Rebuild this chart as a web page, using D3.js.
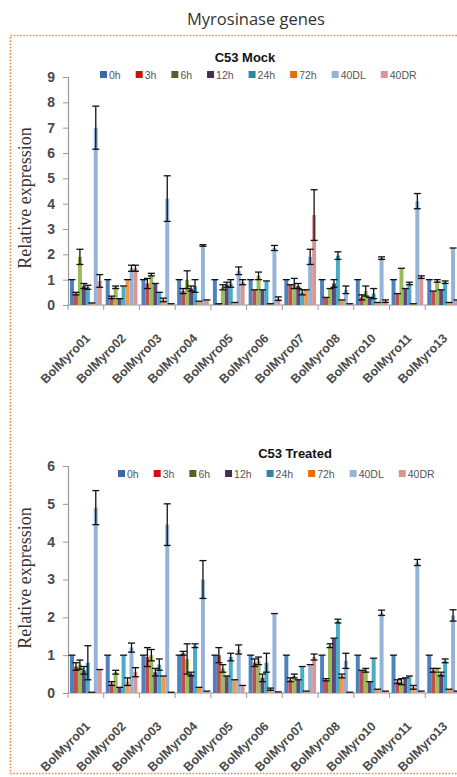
<!DOCTYPE html>
<html lang="en">
<head>
<meta charset="UTF-8">
<title>Myrosinase genes</title>
<style>
    body { margin: 0; padding: 0; background: #fff; }
    svg { display: block; }
    .tick-label { font-family: "Liberation Sans", Arial, sans-serif; font-weight: bold; fill: #4a4a4a; }
</style>
</head>
<body>
<svg id="chart" width="457" height="777"></svg>

<script src="https://d3js.org/d3.v7.min.js"></script>
<script>
// genes on the x axis
var genes = ["BolMyro01", "BolMyro02", "BolMyro03", "BolMyro04", "BolMyro05", "BolMyro06",
             "BolMyro07", "BolMyro08", "BolMyro10", "BolMyro11", "BolMyro13"];
// time points / tissues (legend)
var series = ["0h", "3h", "6h", "12h", "24h", "72h", "40DL", "40DR"];

// C53 Mock: one row per gene, one value per series
var mockMeans = [
    [1.0, 0.45, 1.9, 0.75, 0.7, 0.08, 7.0, 0.95],
    [1.0, 0.3, 0.7, 0.25, 0.75, 1.0, 1.45, 1.45],
    [1.0, 0.85, 1.2, 0.85, 0.5, 0.2, 4.2, 0.05],
    [1.0, 0.55, 1.0, 0.65, 0.75, 0.15, 2.35, 0.2],
    [1.0, 0.05, 0.7, 0.8, 0.85, 0.1, 1.35, 0.9],
    [1.0, 0.6, 1.15, 0.6, 0.95, 0.05, 2.25, 0.25],
    [1.0, 0.8, 0.85, 0.75, 0.5, 0.6, 1.9, 3.55],
    [1.0, 0.3, 0.65, 0.85, 1.95, 0.2, 0.6, 0.05],
    [1.0, 0.3, 0.55, 0.3, 0.45, 0.1, 1.85, 0.15],
    [1.0, 0.45, 1.45, 0.65, 0.85, 0.05, 4.1, 1.1],
    [1.0, 0.55, 0.95, 0.6, 0.9, 0.1, 2.25, 0.2]
];
var mockErrors = [
    [0, 0.05, 0.3, 0.1, 0.08, 0, 0.85, 0.25],
    [0, 0.05, 0.05, 0, 0, 0, 0.12, 0.12],
    [0, 0.2, 0.05, 0, 0, 0.07, 0.9, 0],
    [0, 0.1, 0.35, 0.1, 0.25, 0, 0.03, 0],
    [0, 0, 0.1, 0.1, 0.15, 0, 0.15, 0.1],
    [0, 0, 0.15, 0, 0, 0, 0.1, 0.07],
    [0, 0, 0.2, 0.1, 0.1, 0, 0.3, 1.0],
    [0, 0, 0, 0.15, 0.15, 0, 0.15, 0],
    [0, 0.1, 0.2, 0, 0.2, 0, 0.05, 0.05],
    [0, 0, 0, 0, 0.05, 0, 0.3, 0.05],
    [0, 0, 0.05, 0, 0.05, 0, 0, 0]
];

// C53 Treated
var treatedMeans = [
    [1.0, 0.7, 0.75, 0.6, 0.8, 0.02, 4.9, 0.62],
    [1.0, 0.25, 0.55, 0.15, 1.0, 0.3, 1.2, 0.55],
    [1.0, 0.95, 1.0, 0.55, 0.75, 0.45, 4.45, 0.02],
    [1.0, 1.05, 0.9, 0.5, 1.25, 0.15, 3.0, 0.05],
    [1.0, 1.0, 0.65, 0.45, 0.95, 0.35, 1.15, 0.2],
    [1.0, 0.8, 0.85, 0.4, 0.8, 0.1, 2.1, 0.03],
    [1.0, 0.35, 0.45, 0.35, 0.7, 0.05, 0.75, 0.95],
    [1.0, 0.35, 1.25, 1.45, 1.9, 0.45, 0.85, 0.02],
    [1.0, 0.6, 0.6, 0.3, 0.92, 0.1, 2.12, 0.05],
    [1.0, 0.3, 0.3, 0.4, 0.45, 0.15, 3.45, 0.05],
    [1.0, 0.6, 0.65, 0.5, 0.85, 0.1, 2.05, 0.05]
];
var treatedErrors = [
    [0, 0.1, 0.12, 0.1, 0.45, 0, 0.45, 0],
    [0, 0.05, 0.05, 0, 0, 0.1, 0.12, 0.12],
    [0, 0.25, 0.15, 0.1, 0.15, 0, 0.55, 0],
    [0, 0.05, 0.4, 0.05, 0.05, 0, 0.5, 0],
    [0, 0.2, 0.1, 0, 0.1, 0, 0.12, 0],
    [0, 0.1, 0.1, 0.1, 0.25, 0.03, 0, 0],
    [0, 0.05, 0.05, 0, 0, 0, 0, 0.08],
    [0, 0.03, 0.05, 0, 0.05, 0.05, 0.2, 0],
    [0, 0, 0.05, 0, 0, 0, 0.07, 0],
    [0, 0.05, 0.08, 0, 0, 0.05, 0.08, 0],
    [0, 0.05, 0, 0.05, 0.05, 0, 0.15, 0]
];

var mockTicks = [0, 1, 2, 3, 4, 5, 6, 7, 8, 9];
var treatedTicks = [0, 1, 2, 3, 4, 5, 6];

var colors = ["#4F81BD", "#C0504D", "#9BBB59", "#5F497A", "#4BACC6", "#F79646", "#95B3D7", "#D99694"];
var legendColors = ["#3A68A8", "#D01010", "#4F6228", "#3F3151", "#31859C", "#E46C0A", "#95B3D7", "#D99694"];

var svg = d3.select("#chart");

// dotted orange frame
svg.append("rect")
    .attr("x", 10.5).attr("y", 35.5)
    .attr("width", 470).attr("height", 738)
    .attr("fill", "none")
    .attr("stroke", "#E98A3C")
    .attr("stroke-width", 1.6)
    .attr("stroke-dasharray", "1.6,1.6");

svg.append("text")
    .attr("x", 256).attr("y", 25)
    .attr("text-anchor", "middle")
    .style("font-family", "'Open Sans', 'Liberation Sans', sans-serif")
    .style("font-size", "16.5px")
    .attr("fill", "#333")
    .text("Myrosinase genes");

function drawPanel(p) {
    var g = svg.append("g");
    var x = d3.scaleBand().domain(genes).range([68, 461]);
    var xs = d3.scaleBand().domain(series).range([2, x.bandwidth() - 2]);
    var y = d3.scaleLinear().domain([0, p.max]).range([p.y0, p.yTop]);

    // y axis
    var yAxis = g.append("g")
        .attr("transform", "translate(68,0)")
        .call(d3.axisLeft(y).tickValues(p.ticks).tickFormat(d3.format("d")).tickSize(5).tickPadding(8));
    yAxis.select(".domain").attr("stroke", "#999").attr("stroke-width", 1.2);
    yAxis.selectAll(".tick line").attr("stroke", "#999");
    yAxis.selectAll(".tick text").attr("class", "tick-label").style("font-size", "14px");

    // x axis, ticks between groups
    var edges = genes.map(function (d) { return x(d); }).concat([x.range()[1]]);
    var xAxis = g.append("g").attr("transform", "translate(0," + p.y0 + ")");
    xAxis.append("line").attr("x1", 68).attr("x2", 461)
        .attr("stroke", "#999").attr("stroke-width", 1.2);
    xAxis.selectAll("line.tk").data(edges).enter().append("line")
        .attr("class", "tk")
        .attr("x1", function (d) { return d; }).attr("x2", function (d) { return d; })
        .attr("y1", 0).attr("y2", 5).attr("stroke", "#999");
    xAxis.selectAll("text").data(genes).enter().append("text")
        .attr("class", "tick-label")
        .style("font-size", "12.5px")
        .attr("text-anchor", "end")
        .attr("transform", function (d) {
            return "translate(" + (x(d) + x.bandwidth() / 2 + 5) + ",34) rotate(-45)";
        })
        .text(function (d) { return d; });

    // bars
    var rows = [];
    genes.forEach(function (gene, i) {
        series.forEach(function (s, j) {
            rows.push({ gene: gene, s: s, j: j, v: p.means[i][j], e: p.errors[i][j] });
        });
    });
    g.selectAll("rect.bar").data(rows).enter().append("rect")
        .attr("class", "bar")
        .attr("x", function (d) { return x(d.gene) + xs(d.s); })
        .attr("y", function (d) { return y(d.v); })
        .attr("width", xs.bandwidth())
        .attr("height", function (d) { return y(0) - y(d.v); })
        .attr("fill", function (d) { return colors[d.j]; });

    // error bars
    var eb = g.selectAll("g.err").data(rows).enter().append("g").attr("class", "err")
        .attr("stroke", "#111").attr("stroke-width", 1.3);
    eb.append("line")
        .attr("x1", function (d) { return x(d.gene) + xs(d.s) + xs.bandwidth() / 2; })
        .attr("x2", function (d) { return x(d.gene) + xs(d.s) + xs.bandwidth() / 2; })
        .attr("y1", function (d) { return y(d.v + d.e); })
        .attr("y2", function (d) { return y(Math.max(0, d.v - d.e)); });
    eb.append("line")
        .attr("x1", function (d) { return x(d.gene) + xs(d.s) + xs.bandwidth() / 2 - 3.5; })
        .attr("x2", function (d) { return x(d.gene) + xs(d.s) + xs.bandwidth() / 2 + 3.5; })
        .attr("y1", function (d) { return y(d.v + d.e); })
        .attr("y2", function (d) { return y(d.v + d.e); });
    eb.filter(function (d) { return d.e > 0; }).append("line")
        .attr("x1", function (d) { return x(d.gene) + xs(d.s) + xs.bandwidth() / 2 - 3.5; })
        .attr("x2", function (d) { return x(d.gene) + xs(d.s) + xs.bandwidth() / 2 + 3.5; })
        .attr("y1", function (d) { return y(Math.max(0, d.v - d.e)); })
        .attr("y2", function (d) { return y(Math.max(0, d.v - d.e)); });

    // y label
    g.append("text")
        .attr("transform", "translate(31," + p.labelY + ") rotate(-90)")
        .attr("text-anchor", "middle")
        .style("font-family", "'Liberation Serif', 'Times New Roman', serif")
        .style("font-size", "18px")
        .attr("fill", "#333")
        .text("Relative expression");

    // panel title
    g.append("text")
        .attr("x", p.titleX).attr("y", p.titleY)
        .attr("text-anchor", "middle")
        .style("font-family", "'Liberation Sans', Arial, sans-serif")
        .style("font-weight", "bold")
        .style("font-size", "13px")
        .attr("fill", "#111")
        .text(p.title);

    // legend
    var lx = p.legendX;
    series.forEach(function (s, j) {
        g.append("rect")
            .attr("x", lx).attr("y", p.legendY - 4)
            .attr("width", 7).attr("height", 7)
            .attr("fill", legendColors[j]);
        var t = g.append("text")
            .attr("x", lx + 9).attr("y", p.legendY + 3.5)
            .style("font-family", "'Liberation Sans', Arial, sans-serif")
            .style("font-size", "10.5px")
            .attr("fill", "#555")
            .text(s);
        lx += 9 + t.node().getComputedTextLength() + 15;
    });
}

drawPanel({
    title: "C53 Mock", titleX: 245, titleY: 62,
    legendX: 100, legendY: 75,
    means: mockMeans, errors: mockErrors, ticks: mockTicks,
    max: 9, y0: 305, yTop: 77, labelY: 198
});

drawPanel({
    title: "C53 Treated", titleX: 295, titleY: 458,
    legendX: 118, legendY: 474,
    means: treatedMeans, errors: treatedErrors, ticks: treatedTicks,
    max: 6, y0: 693, yTop: 466, labelY: 578
});
</script>
</body>
</html>
